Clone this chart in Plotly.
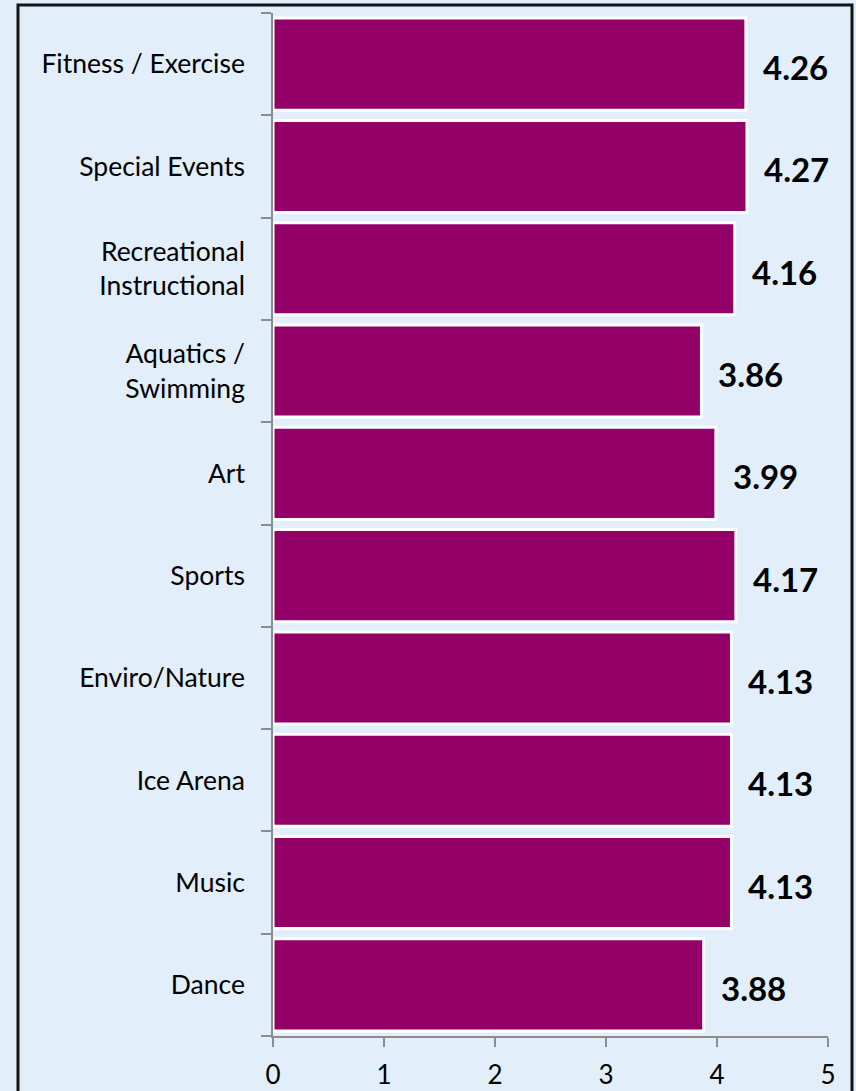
import plotly.graph_objects as go

# Average rating by program area
categories = [
    "Fitness / Exercise",
    "Special Events",
    "Recreational<br>Instructional",
    "Aquatics /<br>Swimming",
    "Art",
    "Sports",
    "Enviro/Nature",
    "Ice Arena",
    "Music",
    "Dance",
]
ratings = [4.26, 4.27, 4.16, 3.86, 3.99, 4.17, 4.13, 4.13, 4.13, 3.88]
x_ticks = [0, 1, 2, 3, 4, 5]

BAR_COLOR = "#930068"
BG_COLOR = "#E2EEF9"
AXIS_COLOR = "#8C8C8C"
FONT = "Lato, Open Sans, sans-serif"

W, H = 856, 1091
M_L, M_R, M_T, M_B = 273, 28, 13, 55

fig = go.Figure(
    go.Bar(
        x=ratings,
        y=categories,
        orientation="h",
        marker=dict(color=BAR_COLOR, line=dict(color="white", width=3)),
        hoverinfo="x+y",
    )
)

# Value labels to the right of each bar
for cat, val in zip(categories, ratings):
    fig.add_annotation(
        x=val, y=cat, text=f"<b>{val:.2f}</b>",
        xanchor="left", yanchor="middle", xshift=15, yshift=-3,
        showarrow=False, font=dict(family=FONT, size=33, color="black"),
    )

# Frame around the chart (extends past the bottom edge)
pw = W - M_L - M_R
ph = H - M_T - M_B
fig.add_shape(
    type="rect", xref="paper", yref="paper",
    x0=(18 - M_L) / pw, x1=(852 - M_L) / pw,
    y0=-(H + 20 - (H - M_B)) / ph, y1=1 + (M_T - 5) / ph,
    line=dict(color="#141414", width=3), fillcolor="rgba(0,0,0,0)",
)

fig.update_layout(
    width=W, height=H,
    margin=dict(l=M_L, r=M_R, t=M_T, b=M_B, pad=0),
    paper_bgcolor=BG_COLOR, plot_bgcolor=BG_COLOR,
    bargap=0.1,
    showlegend=False,
    font=dict(family=FONT, color="black"),
    xaxis=dict(
        range=[0, 5], tickvals=x_ticks, ticktext=[str(v) for v in x_ticks],
        showgrid=False, zeroline=False,
        showline=True, linecolor=AXIS_COLOR, linewidth=1.5,
        ticks="outside", ticklen=9, tickcolor=AXIS_COLOR, tickwidth=1.5,
        ticklabelstandoff=6, automargin=False,
        tickfont=dict(family=FONT, size=26, color="black"),
        fixedrange=True,
    ),
    yaxis=dict(
        categoryorder="array", categoryarray=categories[::-1],
        showgrid=False, zeroline=False,
        showline=True, linecolor=AXIS_COLOR, linewidth=1.5,
        ticks="outside", ticklen=10, tickcolor=AXIS_COLOR, tickwidth=1.5,
        tickson="boundaries", ticklabelstandoff=21, automargin=False,
        tickfont=dict(family=FONT, size=26.5, color="black"),
        fixedrange=True,
    ),
)

fig.write_html("out.html")
